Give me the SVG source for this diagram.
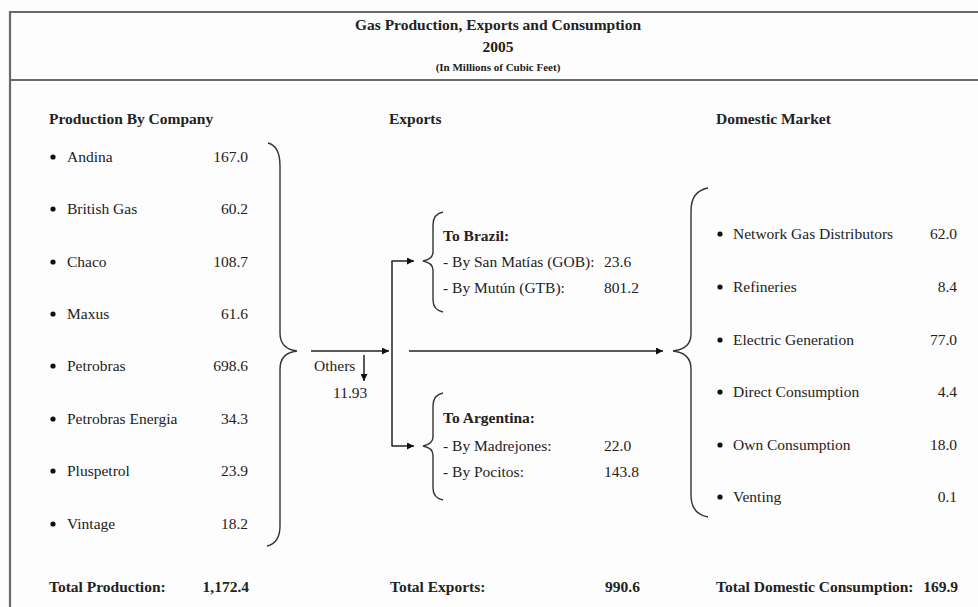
<svg xmlns="http://www.w3.org/2000/svg" width="978" height="607" viewBox="0 0 978 607">
<style>
text{font-family:"Liberation Serif","Times New Roman",serif;fill:#222;}
.t{font-size:15.5px;}
.b{font-size:15.5px;font-weight:bold;}
.s{font-size:11px;font-weight:bold;}
.r{text-anchor:end;}
.c{text-anchor:middle;}
.frame{stroke:#6a6a6a;stroke-width:2.2;fill:none;}
.ln{stroke:#222;stroke-width:1.5;fill:none;}
.br{stroke:#333;stroke-width:1.4;fill:none;}
.dot{fill:#111;}
</style>
<defs>
<marker id="ah" viewBox="0 0 10 10" refX="10" refY="5" markerWidth="7" markerHeight="7" markerUnits="userSpaceOnUse" orient="auto">
<path d="M0,0 L10,5 L0,10 z" fill="#111"/>
</marker>
</defs>
<rect width="978" height="607" fill="#fdfdfd"/>
<g id="frame">
<path class="frame" d="M978,12 L10,12 L10,607"/>
<line class="frame" x1="10" y1="80" x2="978" y2="80"/>
</g>
<g id="header">
<text class="b c" x="498" y="30">Gas Production, Exports and Consumption</text>
<text class="b c" x="498" y="52">2005</text>
<text class="s c" x="498" y="71">(In Millions of Cubic Feet)</text>
</g>
<g id="production">
<text class="b" x="49" y="124">Production By Company</text>
<g class="t">
<circle class="dot" cx="53" cy="157" r="2.6"/><text x="67" y="162">Andina</text><text class="r" x="248" y="162">167.0</text>
<circle class="dot" cx="53" cy="209" r="2.6"/><text x="67" y="214">British Gas</text><text class="r" x="248" y="214">60.2</text>
<circle class="dot" cx="53" cy="262" r="2.6"/><text x="67" y="267">Chaco</text><text class="r" x="248" y="267">108.7</text>
<circle class="dot" cx="53" cy="314" r="2.6"/><text x="67" y="319">Maxus</text><text class="r" x="248" y="319">61.6</text>
<circle class="dot" cx="53" cy="366" r="2.6"/><text x="67" y="371">Petrobras</text><text class="r" x="248" y="371">698.6</text>
<circle class="dot" cx="53" cy="419" r="2.6"/><text x="67" y="424">Petrobras Energia</text><text class="r" x="248" y="424">34.3</text>
<circle class="dot" cx="53" cy="471" r="2.6"/><text x="67" y="476">Pluspetrol</text><text class="r" x="248" y="476">23.9</text>
<circle class="dot" cx="53" cy="524" r="2.6"/><text x="67" y="529">Vintage</text><text class="r" x="248" y="529">18.2</text>
</g>
<path class="br" d="M268,143 Q280,146 280,166 L280,333 Q280,349 297,351 Q280,353 280,369 L280,526 Q280,543 267,546"/>
<text class="b" x="49" y="592">Total Production:</text>
<text class="b r" x="249" y="592">1,172.4</text>
</g>
<g id="exports">
<text class="b" x="389" y="124">Exports</text>
<g id="brazil">
<path class="br" d="M443,212 Q433,214 433,225 L433,252 Q433,259 423,261 Q433,263 433,270 L433,300 Q433,310 443,312"/>
<text class="b" x="443" y="241">To Brazil:</text>
<text class="t" x="443" y="267">- By San Matías (GOB):</text><text class="t" x="604" y="267">23.6</text>
<text class="t" x="443" y="293">- By Mutún (GTB):</text><text class="t" x="604" y="293">801.2</text>
</g>
<g id="argentina">
<path class="br" d="M443,393 Q433,395 433,406 L433,437 Q433,444 423,446 Q433,448 433,455 L433,488 Q433,498 443,500"/>
<text class="b" x="443" y="423">To Argentina:</text>
<text class="t" x="443" y="451">- By Madrejones:</text><text class="t" x="604" y="451">22.0</text>
<text class="t" x="443" y="477">- By Pocitos:</text><text class="t" x="604" y="477">143.8</text>
</g>
<g id="others">
<text class="t" x="314" y="371">Others</text>
<text class="t" x="333" y="398">11.93</text>
</g>
<text class="b" x="390" y="592">Total Exports:</text>
<text class="b" x="605" y="592">990.6</text>
</g>
<g id="connectors">
<line class="ln" x1="311" y1="351" x2="389" y2="351" marker-end="url(#ah)"/>
<line class="ln" x1="364" y1="355" x2="364" y2="381" marker-end="url(#ah)"/>
<line class="ln" x1="392" y1="261" x2="392" y2="446"/>
<line class="ln" x1="391.5" y1="261" x2="414" y2="261" marker-end="url(#ah)"/>
<line class="ln" x1="391.5" y1="446" x2="414" y2="446" marker-end="url(#ah)"/>
<line class="ln" x1="409" y1="351" x2="663" y2="351" marker-end="url(#ah)"/>
</g>
<g id="domestic">
<text class="b" x="716" y="124">Domestic Market</text>
<path class="br" d="M708,188 Q691,191 691,211 L691,334 Q691,349 673,351 Q691,353 691,369 L691,495 Q691,514 708,517"/>
<g class="t">
<circle class="dot" cx="720" cy="234" r="2.6"/><text x="733" y="239">Network Gas Distributors</text><text class="r" x="957" y="239">62.0</text>
<circle class="dot" cx="720" cy="287" r="2.6"/><text x="733" y="292">Refineries</text><text class="r" x="957" y="292">8.4</text>
<circle class="dot" cx="720" cy="340" r="2.6"/><text x="733" y="345">Electric Generation</text><text class="r" x="957" y="345">77.0</text>
<circle class="dot" cx="720" cy="392" r="2.6"/><text x="733" y="397">Direct Consumption</text><text class="r" x="957" y="397">4.4</text>
<circle class="dot" cx="720" cy="445" r="2.6"/><text x="733" y="450">Own Consumption</text><text class="r" x="957" y="450">18.0</text>
<circle class="dot" cx="720" cy="497" r="2.6"/><text x="733" y="502">Venting</text><text class="r" x="957" y="502">0.1</text>
</g>
<text class="b" x="716" y="592">Total Domestic Consumption:</text>
<text class="b r" x="958" y="592">169.9</text>
</g>
</svg>
